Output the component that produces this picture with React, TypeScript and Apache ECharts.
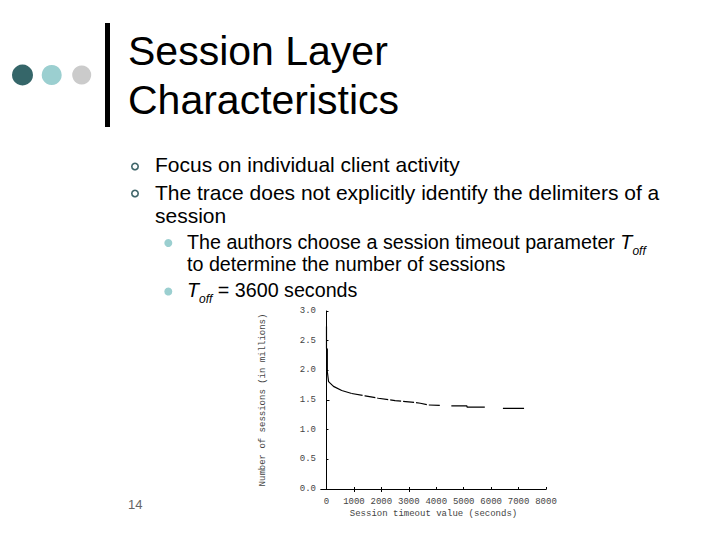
import React, { useEffect, useRef } from 'react';
import * as echarts from 'echarts';

// axis ticks
const xTicks = [0, 1000, 2000, 3000, 4000, 5000, 6000, 7000, 8000];
const topTicks = [1000, 2000, 3000];
const rightTicks = [1.5];

// number of sessions (millions) vs session timeout (s)
const headTimes = [0, 0, 30, 30, 75, 255, 555, 920];
const headValues = [2.74, 2.37, 2.36, 1.98, 1.81, 1.73, 1.66, 1.61];
const midTimes = [920, 1405, 1890, 2500, 3225, 3420, 3710, 4150];
const midValues = [1.61, 1.57, 1.53, 1.49, 1.46, 1.445, 1.416, 1.41];
const tailTimes = [4550, 5120, 5120, 5770, 6100, 6430, 7200];
const tailValues = [1.4, 1.4, 1.38, 1.38, null, 1.36, 1.36];

const bulletLines = [
  'Focus on individual client activity',
  'The trace does not explicitly identify the delimiters of a',
  'session',
];

const toPairs = (ts: number[], vs: (number | null)[]) =>
  ts.map((t, i) => [t, vs[i] == null ? '-' : vs[i]]);

const SANS = '"Liberation Sans", Arial, sans-serif';
const MONO = '"Liberation Mono", "DejaVu Sans Mono", monospace';

const SUB_FS = 19.7;

// rich styles for "T_off": normal + italic centred, subscript dropped to the bottom
const toffRich = {
  n: { fontFamily: SANS, fontSize: SUB_FS, fill: '#000', lineHeight: 30, verticalAlign: 'middle' },
  i: { fontFamily: SANS, fontSize: SUB_FS, fontStyle: 'italic', fill: '#000', lineHeight: 30, verticalAlign: 'middle' },
  s: { fontFamily: SANS, fontSize: 12, fontStyle: 'italic', fill: '#000', lineHeight: 12, verticalAlign: 'bottom' },
};

const App: React.FC = () => {
  const chartRef = useRef<HTMLDivElement>(null);

  useEffect(() => {
    if (!chartRef.current) return;
    const chart = echarts.init(chartRef.current, null, { renderer: 'svg' });

    const tickFont = { fontFamily: MONO, fontSize: 9, color: '#444' };

    const option: any = {
      animation: false,
      backgroundColor: '#ffffff',
      grid: { left: 321, right: 174, top: 311, bottom: 51 },
      xAxis: [
        {
          type: 'value',
          min: -200,
          max: 8000,
          position: 'bottom',
          axisLine: { show: true, lineStyle: { color: '#000', width: 1 } },
          axisTick: { show: true, inside: true, length: 2, customValues: xTicks, lineStyle: { color: '#000' } },
          axisLabel: { customValues: xTicks, margin: 8, formatter: (v: number) => String(v), ...tickFont },
          splitLine: { show: false },
          name: 'Session timeout value (seconds)',
          nameLocation: 'middle',
          nameGap: 20,
          nameTextStyle: tickFont,
        },
        {
          type: 'value',
          min: -200,
          max: 8000,
          position: 'top',
          axisLine: { show: true, lineStyle: { color: '#000', width: 1 } },
          axisTick: { show: true, inside: true, length: 3, customValues: topTicks, lineStyle: { color: '#000' } },
          axisLabel: { show: false },
          splitLine: { show: false },
        },
      ],
      yAxis: [
        {
          type: 'value',
          min: 0,
          max: 3,
          interval: 0.5,
          axisLine: { show: false },
          axisTick: { show: true, inside: true, length: 2, lineStyle: { color: '#000' } },
          axisLabel: { margin: 5, formatter: (v: number) => v.toFixed(1), ...tickFont },
          splitLine: { show: false },
          name: 'Number of sessions (in millions)',
          nameLocation: 'middle',
          nameGap: 54,
          nameRotate: 90,
          nameTextStyle: tickFont,
        },
        {
          type: 'value',
          min: 0,
          max: 3,
          position: 'right',
          axisLine: { show: true, lineStyle: { color: '#000', width: 1 } },
          axisTick: { show: true, inside: false, length: 3, customValues: rightTicks, lineStyle: { color: '#000' } },
          axisLabel: { show: false },
          splitLine: { show: false },
        },
      ],
      series: [
        {
          type: 'line',
          data: toPairs(headTimes, headValues),
          showSymbol: false,
          lineStyle: { color: '#000', width: 1.2 },
        },
        {
          type: 'line',
          data: toPairs(midTimes, midValues),
          showSymbol: false,
          lineStyle: { color: '#000', width: 1.2, type: [11, 2] },
        },
        {
          type: 'line',
          data: toPairs(tailTimes, tailValues),
          showSymbol: false,
          connectNulls: false,
          lineStyle: { color: '#000', width: 1.2 },
        },
      ],
      graphic: [
        // decorative dots and bar
        { type: 'circle', shape: { cx: 22.5, cy: 75, r: 10.5 }, style: { fill: '#356669' } },
        { type: 'circle', shape: { cx: 51.7, cy: 75, r: 10 }, style: { fill: '#9BCFD0' } },
        { type: 'circle', shape: { cx: 81.7, cy: 75, r: 9.5 }, style: { fill: '#CBCBCB' } },
        { type: 'rect', shape: { x: 105, y: 23, width: 5, height: 104 }, style: { fill: '#000' } },
        // title
        { type: 'text', x: 128, y: 50.8, style: { text: 'Session Layer', font: `41px ${SANS}`, fill: '#000', verticalAlign: 'middle' } },
        { type: 'text', x: 128, y: 100.1, style: { text: 'Characteristics', font: `41px ${SANS}`, fill: '#000', verticalAlign: 'middle' } },
        // level-1 bullets
        { type: 'ring', shape: { cx: 135, cy: 166.5, r: 4, r0: 2.4 }, style: { fill: '#3F6569' } },
        { type: 'ring', shape: { cx: 135, cy: 193.5, r: 4, r0: 2.4 }, style: { fill: '#3F6569' } },
        { type: 'text', x: 155, y: 164.4, style: { text: bulletLines[0], font: `21px ${SANS}`, fill: '#000', verticalAlign: 'middle' } },
        { type: 'text', x: 155, y: 192, style: { text: bulletLines[1], font: `21px ${SANS}`, fill: '#000', verticalAlign: 'middle' } },
        { type: 'text', x: 155, y: 215.4, style: { text: bulletLines[2], font: `21px ${SANS}`, fill: '#000', verticalAlign: 'middle' } },
        // level-2 bullets
        { type: 'circle', shape: { cx: 168.3, cy: 243, r: 4 }, style: { fill: '#9BCFD0' } },
        { type: 'circle', shape: { cx: 168.3, cy: 291.5, r: 4 }, style: { fill: '#9BCFD0' } },
        {
          type: 'text',
          x: 187,
          y: 241.5,
          style: {
            text: '{n|The authors choose a session timeout parameter }{i|T}{s|off}',
            verticalAlign: 'middle',
            rich: toffRich,
          },
        },
        { type: 'text', x: 187, y: 263.9, style: { text: 'to determine the number of sessions', font: `${SUB_FS}px ${SANS}`, fill: '#000', verticalAlign: 'middle' } },
        {
          type: 'text',
          x: 187,
          y: 290.3,
          style: {
            text: '{i|T}{s|off}{n| = 3600 seconds}',
            verticalAlign: 'middle',
            rich: toffRich,
          },
        },
        // page number
        { type: 'text', x: 128, y: 504, style: { text: '14', font: `13px ${SANS}`, fill: '#666', verticalAlign: 'middle' } },
      ],
    };

    chart.setOption(option);
    return () => chart.dispose();
  }, []);

  return (
    <div
      ref={chartRef}
      style={{ position: 'fixed', left: 0, top: 0, width: 720, height: 540 }}
    />
  );
};

export default App;
